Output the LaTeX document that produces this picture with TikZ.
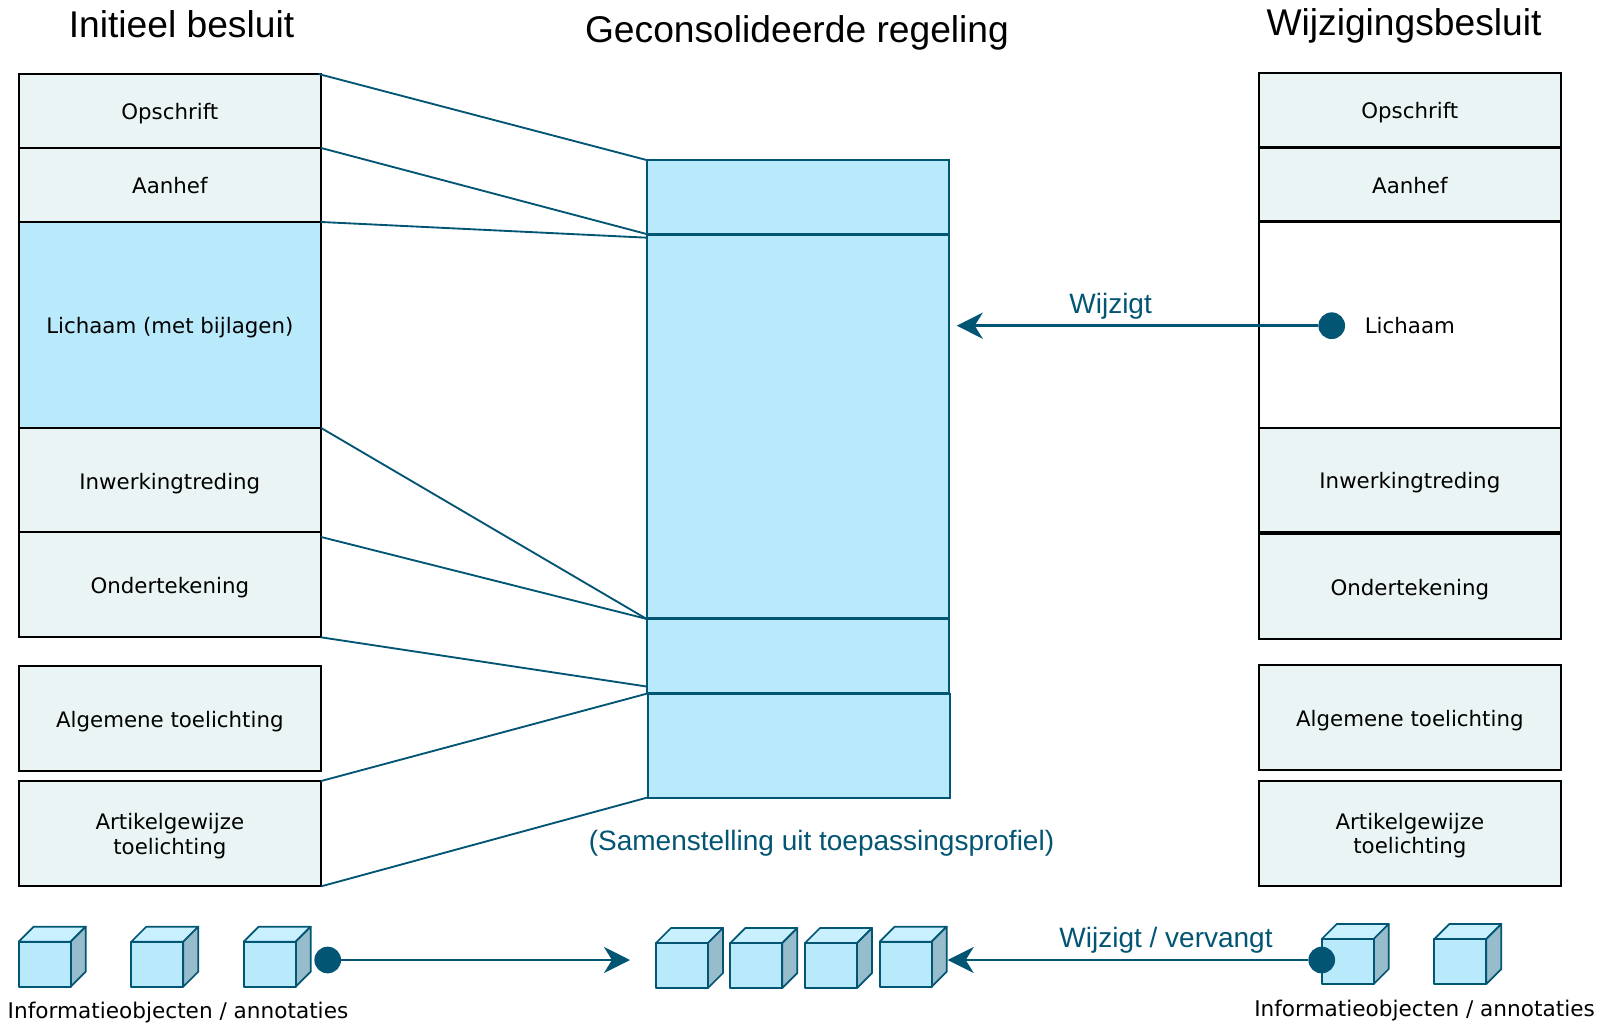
\documentclass[tikz,border=0pt]{standalone}
\usepackage{fontspec}
\setmainfont{DejaVu Sans}
\newfontfamily\titlefont{Liberation Sans}
\usetikzlibrary{arrows.meta}
\definecolor{lijnblauw}{RGB}{3,85,116}
\definecolor{vulblauw}{RGB}{185,234,252}
\definecolor{vulgrijs}{RGB}{235,244,245}
\definecolor{kubustop}{RGB}{200,240,255}
\definecolor{kubuszij}{RGB}{151,189,204}
\tikzset{
  deelbox/.style={draw=black,line width=1.5pt,inner sep=0pt,outer sep=0pt,anchor=north west,align=center,text height=13.5pt,text depth=0pt,font=\fontsize{16}{18.4}\selectfont},
  kopbox/.style={deelbox,fill=vulgrijs},
  tweeregels/.style={text height=,text depth=-1.5pt},
  regelbox/.style={draw=lijnblauw,fill=vulblauw,line width=1.5pt,inner sep=0pt,outer sep=0pt,anchor=north west},
  koppeling/.style={draw=lijnblauw,line width=1.4pt},
  pijl/.style={draw=lijnblauw,line width=2.2pt,-{Stealth[length=19.5pt,width=19.5pt,inset=6pt]}},
  stip/.style={circle,fill=lijnblauw,inner sep=0pt,minimum size=20pt},
  kop/.style={font=\titlefont\fontsize{27.9}{30}\selectfont,text=black,inner sep=0pt},
  blauwtekst/.style={font=\titlefont\fontsize{21}{24}\selectfont,text=lijnblauw,inner sep=0pt},
  onderschrift/.style={font=\fontsize{16.2}{18.4}\selectfont,inner sep=0pt},
  kubus/.pic={
    \draw [draw=lijnblauw,line width=1.3pt,line join=round,fill=kubustop] (0,45) -- (15,60) -- (67,60) -- (52,45) -- cycle;
    \draw [draw=lijnblauw,line width=1.3pt,line join=round,fill=kubuszij] (52,0) -- (67,15) -- (67,60) -- (52,45) -- cycle;
    \draw [draw=lijnblauw,line width=1.3pt,line join=round,fill=vulblauw] (0,0) rectangle (52,45);
  }
}
\begin{document}
\begin{tikzpicture}[x=0.75pt,y=0.75pt,yscale=-1,xscale=1]
\useasboundingbox (0,0) rectangle (1608,1023);
%Titels
\node [kop] (titelinitieel) at (181.5,24) {Initieel besluit};
\node [kop] (titelregeling) at (797,33) {Geconsolideerde regeling};
\node [kop] (titelwijziging) at (1404,26) {Wijzigingsbesluit};
%Initieel besluit
\node [kopbox,minimum width=227pt,minimum height=55.5pt] (opschriftL) at (18.5,74) {Opschrift};
\node [kopbox,minimum width=227pt,minimum height=55.5pt] (aanhefL) at (18.5,148) {Aanhef};
\node [deelbox,fill=vulblauw,minimum width=227pt,minimum height=154.5pt] (lichaamL) at (18.5,222) {Lichaam (met bijlagen)};
\node [kopbox,minimum width=227pt,minimum height=78pt] (inwerkingL) at (18.5,428) {Inwerkingtreding};
\node [kopbox,minimum width=227pt,minimum height=79pt] (ondertekeningL) at (18.5,532) {Ondertekening};
\node [kopbox,minimum width=227pt,minimum height=79pt] (algemeenL) at (18.5,665.5) {Algemene toelichting};
\node [kopbox,tweeregels,minimum width=227pt,minimum height=79pt] (artikelL) at (18.5,781) {Artikelgewijze\\toelichting};
%Wijzigingsbesluit
\node [kopbox,minimum width=227pt,minimum height=55.5pt] (opschriftR) at (1258.5,73) {Opschrift};
\node [kopbox,minimum width=227pt,minimum height=55.5pt] (aanhefR) at (1258.5,148) {Aanhef};
\node [deelbox,minimum width=227pt,minimum height=154.5pt] (lichaamR) at (1258.5,221.5) {Lichaam};
\node [kopbox,minimum width=227pt,minimum height=78.5pt] (inwerkingR) at (1258.5,427.5) {Inwerkingtreding};
\node [kopbox,minimum width=227pt,minimum height=79pt] (ondertekeningR) at (1258.5,533.5) {Ondertekening};
\node [kopbox,minimum width=227pt,minimum height=79pt] (algemeenR) at (1258.5,664.5) {Algemene toelichting};
\node [kopbox,tweeregels,minimum width=227pt,minimum height=79pt] (artikelR) at (1258.5,780.5) {Artikelgewijze\\toelichting};
%Geconsolideerde regeling
\node [regelbox,minimum width=227pt,minimum height=55.5pt] (regelkop) at (646.5,160) {};
\node [regelbox,minimum width=227pt,minimum height=286.9pt] (regellichaam) at (646.5,235) {};
\node [regelbox,minimum width=227pt,minimum height=55.5pt] (regelmidden) at (646.5,618.5) {};
\node [regelbox,minimum width=227pt,minimum height=78pt] (regelonder) at (647.5,693.5) {};
\node [blauwtekst] (samenstelling) at (821.5,843) {(Samenstelling uit toepassingsprofiel)};
%Koppelingen
\draw [koppeling] ([xshift=-2pt]opschriftL.north east) -- (regelkop.north west);
\draw [koppeling] (aanhefL.north east) -- (regelkop.south west);
\draw [koppeling] (lichaamL.north east) -- ([yshift=2pt]regellichaam.north west);
\draw [koppeling] (inwerkingL.north east) -- ([yshift=1pt]regellichaam.south west);
\draw [koppeling] ([yshift=3.75pt]ondertekeningL.north east) -- ([yshift=1pt]regellichaam.south west);
\draw [koppeling] (ondertekeningL.south east) -- ([yshift=-4.5pt]regelmidden.south west);
\draw [koppeling] (artikelL.north east) -- (regelonder.north west);
\draw [koppeling] (artikelL.south east) -- (regelonder.south west);
%Kubussen
\pic at (18.7,986.7) {kubus};
\pic at (131.3,986.7) {kubus};
\pic at (243.7,986.7) {kubus};
\pic at (656,988) {kubus};
\pic at (730.3,988) {kubus};
\pic at (805,988) {kubus};
\pic at (879.7,986.7) {kubus};
\pic at (1321.7,984) {kubus};
\pic at (1434.3,984) {kubus};
\node [onderschrift] (infoL) at (178,1012.5) {Informatieobjecten / annotaties};
\node [onderschrift] (infoR) at (1424.5,1010.5) {Informatieobjecten / annotaties};
%Pijlen
\coordinate (wijzigtdoel) at (956.7,325.7);
\coordinate (objectdoelL) at (630,960);
\coordinate (objectdoelR) at (947.7,960);
\node [stip] (stiplichaam) at (1331.7,325.7) {};
\node [stip] (stipobjectL) at (327.7,960) {};
\node [stip] (stipobjectR) at (1321.7,960) {};
\draw [pijl] (stiplichaam) -- (wijzigtdoel);
\draw [pijl] (stipobjectL) -- (objectdoelL);
\draw [pijl] (stipobjectR) -- (objectdoelR);
\node [blauwtekst] (wijzigt) at (1110.6,306.5) {Wijzigt};
\node [blauwtekst] (vervangt) at (1166,940) {Wijzigt / vervangt};
\end{tikzpicture}
\end{document}
